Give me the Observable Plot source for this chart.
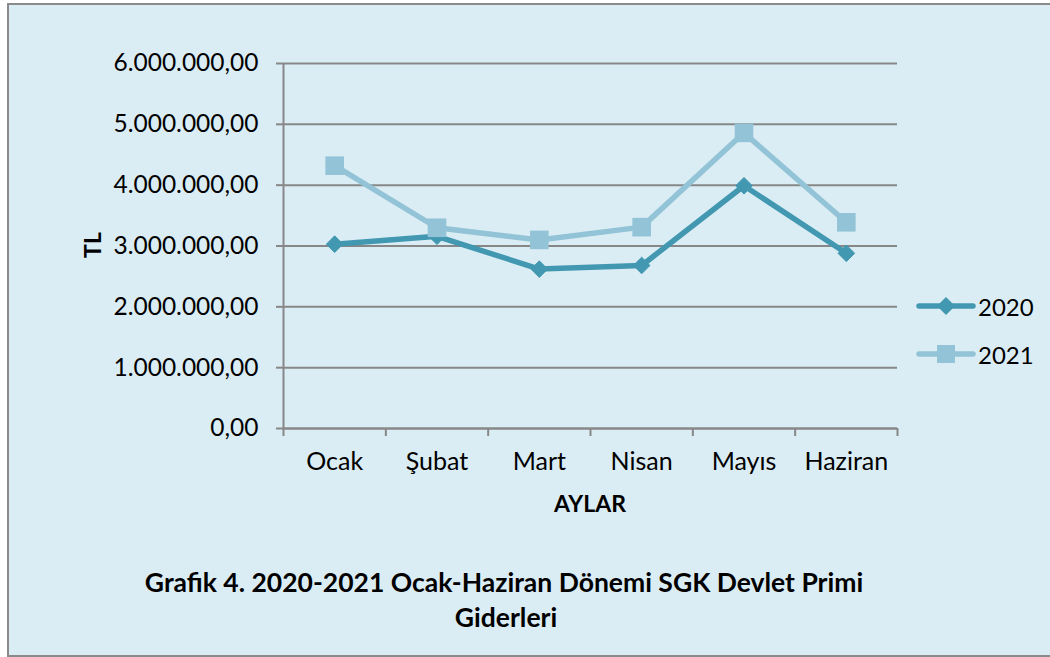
<!DOCTYPE html>
<html><head><meta charset="utf-8">
<script src="https://cdn.jsdelivr.net/npm/d3@7"></script>
<script src="https://cdn.jsdelivr.net/npm/@observablehq/plot@0.6"></script>
<style>
html,body{margin:0;padding:0;background:#fff;}
#wrap{position:relative;width:1050px;height:657px;overflow:hidden;font-family:Lato,"Noto Sans",sans-serif;color:#000;}
#frame{position:absolute;left:7px;top:3px;width:1100px;height:650px;background:#DBEDF4;border:2px solid #8a8a8a;border-right:none;}
#chart{position:absolute;left:0;top:0;}
.lbl{position:absolute;white-space:nowrap;}
</style></head>
<body><div id="wrap"><div id="frame"></div><div id="chart"></div></div>
<script>
const months = ["Ocak","Şubat","Mart","Nisan","Mayıs","Haziran"];
const series = ["2020","2021"];
const values2020 = [3030000,3160000,2620000,2680000,3990000,2880000];
const values2021 = [4320000,3300000,3100000,3310000,4860000,3390000];
const yTicks = [0,1000000,2000000,3000000,4000000,5000000,6000000];
const colors = ["#4398B1","#93C3D6"];
const yTitle = "TL";
const xTitle = "AYLAR";
const title1 = "Grafik 4. 2020-2021 Ocak-Haziran Dönemi SGK Devlet Primi";
const title2 = "Giderleri";

const data = [];
months.forEach((m,i)=>{ data.push({month:m, idx:i+0.5, year:"2020", value:values2020[i]}); });
months.forEach((m,i)=>{ data.push({month:m, idx:i+0.5, year:"2021", value:values2021[i]}); });

const tr = d3.formatLocale({decimal:",", thousands:".", grouping:[3], currency:["","TL"]});
const fmt = tr.format(",.2f");
const grid = "#878787";
const W = 1050, H = 657;

const chart = Plot.plot({
  width: W, height: H,
  marginLeft: 283, marginRight: W-897, marginTop: 63, marginBottom: H-428,
  style: {background:"transparent", fontFamily:"Lato, 'Noto Sans', sans-serif", fontSize:"24px", color:"#000", overflow:"visible"},
  x: {type:"linear", domain:[0, months.length]},
  y: {domain:[0,6000000]},
  color: {domain: series, range: colors},
  marks: [
    Plot.gridY(yTicks, {stroke:grid, strokeOpacity:1, strokeWidth:2}),
    Plot.ruleX([0], {stroke:grid, strokeWidth:2}),
    Plot.axisY(yTicks, {tickFormat: fmt, tickSize:7, tickPadding:18, stroke:grid, strokeWidth:2, fontSize:24.5, fill:"#000", label:null}),
    Plot.axisX(d3.range(0, months.length+1), {tickFormat: ()=>"", tickSize:8, stroke:grid, strokeWidth:2, label:null}),
    Plot.axisX(months.map((m,i)=>i+0.5), {tickFormat: d=>months[Math.round(d-0.5)], tickSize:0, tickPadding:24, fontSize:25, fill:"#000", label:null}),
    Plot.line(data, {x:"idx", y:"value", z:"year", stroke:"year", strokeWidth:5.5}),
    Plot.dot(data.filter(d=>d.year==="2020"), {x:"idx", y:"value", symbol:"diamond2", r:7.5, fill:colors[0], stroke:colors[0], strokeWidth:1}),
    Plot.dot(data.filter(d=>d.year==="2021"), {x:"idx", y:"value", symbol:"square", r:10.5, fill:colors[1], stroke:"none"}),
    Plot.ruleY([0], {stroke:grid, strokeWidth:2})
  ]
});
document.getElementById("chart").appendChild(chart);

const wrap = document.getElementById("wrap");
function addLabel(text, css){ const d=document.createElement("div"); d.className="lbl"; d.textContent=text; Object.assign(d.style, css); wrap.appendChild(d); return d; }
addLabel(yTitle, {left:"92px", top:"245px", transform:"translate(-50%,-50%) rotate(-90deg)", fontWeight:"bold", fontSize:"23px"});
addLabel(xTitle, {left:"590px", top:"503px", transform:"translate(-50%,-50%)", fontWeight:"bold", fontSize:"23px"});
addLabel(title1, {left:"504px", top:"582px", transform:"translate(-50%,-50%)", fontWeight:"bold", fontSize:"26.5px"});
addLabel(title2, {left:"506px", top:"617px", transform:"translate(-50%,-50%)", fontWeight:"bold", fontSize:"26.5px"});

// legend
const ns = "http://www.w3.org/2000/svg";
series.forEach((s,i)=>{
  const y = 306 + i*48;
  const svg = document.createElementNS(ns,"svg");
  svg.setAttribute("width","60"); svg.setAttribute("height","24");
  svg.style.position="absolute"; svg.style.left="916px"; svg.style.top=(y-12)+"px";
  const ln = document.createElementNS(ns,"line");
  ln.setAttribute("x1","3"); ln.setAttribute("x2","57"); ln.setAttribute("y1","12"); ln.setAttribute("y2","12");
  ln.setAttribute("stroke",colors[i]); ln.setAttribute("stroke-width","5.5"); ln.setAttribute("stroke-linecap","round");
  svg.appendChild(ln);
  if(i===0){
    const p=document.createElementNS(ns,"path"); p.setAttribute("d","M30,3 L39,12 L30,21 L21,12 Z"); p.setAttribute("fill",colors[0]); svg.appendChild(p);
  } else {
    const r=document.createElementNS(ns,"rect"); r.setAttribute("x","21"); r.setAttribute("y","3"); r.setAttribute("width","18"); r.setAttribute("height","18"); r.setAttribute("fill",colors[1]); svg.appendChild(r);
  }
  wrap.appendChild(svg);
  addLabel(s, {left:"978px", top:y+"px", transform:"translateY(-50%)", fontSize:"24px"});
});
</script></body></html>
